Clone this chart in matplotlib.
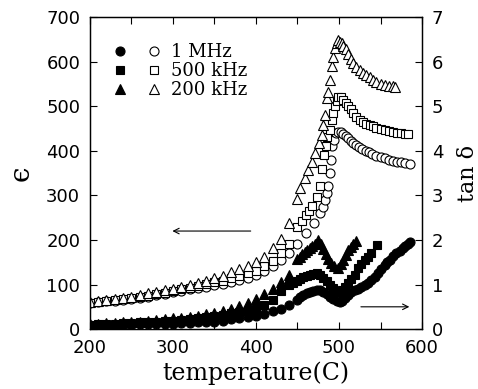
import matplotlib
matplotlib.use("Agg")
from matplotlib import pyplot as plt
from matplotlib.legend_handler import HandlerTuple

# dielectric constant (open symbols, left axis)
t_eps_1m = [200, 210, 220, 230, 240, 250, 260, 270, 280, 290, 300, 310, 320, 330, 340, 350, 360, 370, 380, 390,
            400, 410, 420, 430, 440, 450, 460, 470, 477, 481, 483, 485, 487, 489, 490, 492, 494, 496, 499, 502,
            505, 508, 511, 514, 517, 520, 524, 528, 532, 536, 540, 545, 550, 555, 560, 565, 570, 575, 580, 585]
eps_1m = [58, 60, 62, 64, 66, 68, 70, 73, 76, 79, 83, 86, 89, 92, 95, 98, 102, 106, 110, 115,
          121, 130, 141, 155, 170, 192, 215, 238, 260, 275, 290, 305, 320, 350, 380, 410, 425, 440, 443, 442,
          438, 433, 428, 422, 418, 414, 408, 404, 400, 397, 393, 389, 386, 383, 380, 378, 376, 374, 372, 370]

t_eps_500k = [200, 210, 220, 230, 240, 250, 260, 270, 280, 290, 300, 310, 320, 330, 340, 350, 360, 370, 380, 390,
              400, 410, 420, 430, 440, 450, 455, 460, 464, 468, 473, 477, 480, 482, 484, 486, 489, 491, 493, 495,
              497, 499, 502, 505, 508, 511, 514, 517, 521, 525, 529, 533, 537, 541, 545, 550, 555, 560, 565, 570,
              575, 580, 583]
eps_500k = [58, 61, 63, 65, 67, 70, 72, 75, 78, 82, 86, 89, 93, 97, 101, 105, 109, 114, 119, 125,
            131, 141, 153, 170, 192, 230, 243, 255, 265, 276, 297, 320, 360, 390, 410, 430, 446, 470, 484, 500,
            512, 521, 520, 515, 508, 500, 493, 484, 476, 470, 465, 461, 458, 455, 452, 450, 447, 445, 443, 441,
            439, 438, 437]

t_eps_200k = [200, 210, 220, 230, 240, 250, 260, 270, 280, 290, 300, 310, 320, 330, 340, 350, 360, 370, 380, 390,
              400, 410, 420, 430, 440, 450, 453, 459, 463, 467, 471, 476, 479, 481, 483, 485, 487, 489, 491, 493,
              495, 497, 499, 501, 503, 505, 508, 511, 514, 517, 521, 525, 529, 533, 537, 541, 545, 550, 555, 560,
              565, 567]
eps_200k = [60, 63, 65, 68, 70, 73, 76, 80, 83, 87, 91, 95, 99, 104, 109, 114, 120, 127, 134, 142,
            151, 162, 181, 203, 237, 293, 316, 338, 357, 375, 394, 417, 435, 458, 480, 518, 532, 560, 590, 610,
            630, 642, 648, 645, 641, 636, 628, 617, 606, 597, 589, 582, 575, 570, 565, 560, 555, 551, 548, 546,
            545, 544]

# loss tangent (filled symbols, right axis)
t_tan_1m = [200, 210, 220, 230, 240, 250, 260, 270, 280, 290, 300, 310, 320, 330, 340, 350, 360, 370, 380, 390,
            400, 410, 420, 430, 440, 449, 453, 457, 461, 465, 469, 473, 477, 481, 485, 489, 493, 497, 501, 504,
            507, 511, 515, 519, 523, 527, 531, 535, 539, 543, 547, 551, 555, 558, 561, 565, 569, 573, 577, 580,
            583, 586]
tan_1m = [0.10, 0.10, 0.10, 0.10, 0.10, 0.10, 0.11, 0.11, 0.11, 0.12, 0.12, 0.13, 0.14, 0.15, 0.16, 0.17, 0.19,
          0.22, 0.25, 0.27, 0.30, 0.34, 0.40, 0.46, 0.53, 0.66, 0.71, 0.76, 0.80, 0.84, 0.86, 0.88, 0.87, 0.84,
          0.79, 0.72, 0.67, 0.63, 0.61, 0.64, 0.69, 0.76, 0.84, 0.88, 0.91, 0.95, 0.99, 1.04, 1.10, 1.17, 1.25,
          1.34, 1.44, 1.50, 1.55, 1.63, 1.70, 1.76, 1.81, 1.87, 1.92, 1.96]

t_tan_500k = [200, 210, 220, 230, 240, 250, 260, 270, 280, 290, 300, 310, 320, 330, 340, 350, 360, 370, 380, 390,
              400, 410, 420, 430, 440, 445, 449, 453, 457, 461, 465, 469, 473, 477, 481, 485, 489, 493, 497, 500,
              503, 507, 511, 515, 519, 523, 527, 531, 535, 539, 546]
tan_500k = [0.10, 0.11, 0.12, 0.12, 0.13, 0.14, 0.15, 0.16, 0.17, 0.18, 0.19, 0.21, 0.23, 0.25, 0.27, 0.29, 0.32,
            0.35, 0.38, 0.41, 0.45, 0.53, 0.66, 0.86, 1.00, 1.04, 1.07, 1.12, 1.16, 1.19, 1.22, 1.24, 1.25, 1.22,
            1.15, 1.07, 0.99, 0.92, 0.86, 0.84, 0.88, 0.95, 1.03, 1.12, 1.22, 1.36, 1.46, 1.55, 1.62, 1.70, 1.88]

t_tan_200k = [200, 210, 220, 230, 240, 250, 260, 270, 280, 290, 300, 310, 320, 330, 340, 350, 360, 370, 380, 390,
              400, 410, 420, 430, 440, 450, 453, 456, 459, 462, 465, 468, 471, 475, 478, 481, 484, 487, 490, 494,
              499, 502, 505, 508, 511, 514, 517, 520]
tan_200k = [0.11, 0.12, 0.13, 0.14, 0.15, 0.16, 0.17, 0.19, 0.20, 0.22, 0.24, 0.26, 0.28, 0.30, 0.33, 0.36, 0.40,
            0.45, 0.51, 0.58, 0.67, 0.79, 0.90, 1.05, 1.22, 1.58, 1.62, 1.68, 1.72, 1.78, 1.82, 1.87, 1.92, 1.99,
            1.92, 1.80, 1.68, 1.57, 1.48, 1.42, 1.38, 1.46, 1.56, 1.67, 1.77, 1.85, 1.92, 1.98]

labels = ["1 MHz", "500 kHz", "200 kHz"]

fig = plt.figure(figsize=(4.78, 3.89), dpi=100)
ax = fig.add_axes([0.188, 0.154, 0.695, 0.802])
ax2 = ax.twinx()

mk = dict(linestyle="none", markeredgecolor="black", markeredgewidth=0.8)
o1, = ax.plot(t_eps_1m, eps_1m, marker="o", ms=6.5, mfc="white", **mk)
o2, = ax.plot(t_eps_500k, eps_500k, marker="s", ms=5.5, mfc="white", **mk)
o3, = ax.plot(t_eps_200k, eps_200k, marker="^", ms=6.5, mfc="white", **mk)
f1, = ax2.plot(t_tan_1m, tan_1m, marker="o", ms=6.5, mfc="black", **mk)
f2, = ax2.plot(t_tan_500k, tan_500k, marker="s", ms=5.5, mfc="black", **mk)
f3, = ax2.plot(t_tan_200k, tan_200k, marker="^", ms=6.5, mfc="black", **mk)

ax.set_xlim(200, 600)
ax.set_ylim(0, 700)
ax2.set_ylim(0, 7)
ax.set_xticks(range(200, 601, 100))
ax.set_xticks(range(250, 600, 100), minor=True)
ax.set_yticks(range(0, 701, 100))
ax2.set_yticks(range(0, 8))

ax.tick_params(axis="both", which="both", direction="in", top=True, length=5, width=0.8, pad=7,
               labelsize=13, labelcolor="black", labelfontfamily="DejaVu Sans")
ax2.tick_params(axis="y", direction="in", length=5, width=0.8, pad=7,
                labelsize=13, labelcolor="black", labelfontfamily="DejaVu Sans")
for a in (ax, ax2):
    for s in a.spines.values():
        s.set_linewidth(0.9)

ax.set_xlabel("temperature(C)", family="DejaVu Serif", size=17, labelpad=3)
ax.set_ylabel("\u03f5", family="DejaVu Serif", size=20, labelpad=8)
ax2.set_ylabel("tan \u03b4", family="DejaVu Serif", size=16, labelpad=10)

# arrows pointing to the axis each group belongs to
ax.annotate("", xy=(296, 220), xytext=(397, 220),
            arrowprops=dict(arrowstyle="->", lw=0.8, color="black"))
ax2.annotate("", xy=(588, 0.5), xytext=(523, 0.5),
             arrowprops=dict(arrowstyle="->", lw=0.8, color="black"))

leg = ax.legend([(f1, o1), (f2, o2), (f3, o3)], labels,
                handler_map={tuple: HandlerTuple(ndivide=None, pad=1.2)},
                loc="upper left", bbox_to_anchor=(0.05, 0.94), frameon=False,
                prop=dict(family="DejaVu Serif", size=13), handlelength=2.6,
                handletextpad=0.6, labelspacing=0.05, borderaxespad=0)

plt.savefig("out.png", dpi=100)
